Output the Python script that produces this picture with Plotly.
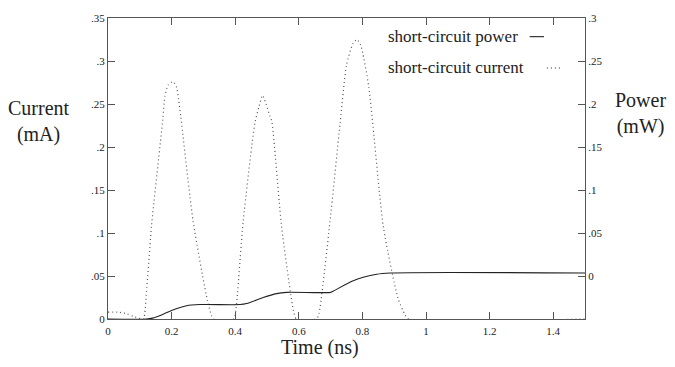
import plotly.graph_objects as go

# Time axis (ns) and short-circuit current (mA)
current_t = [0.0, 0.03, 0.06, 0.08, 0.105, 0.112, 0.122, 0.130, 0.137, 0.172, 0.179, 0.189, 0.205,
             0.216, 0.222, 0.229, 0.268, 0.315, 0.332,
             0.395, 0.402, 0.425, 0.462, 0.475, 0.486, 0.497, 0.509, 0.515, 0.546, 0.583, 0.592,
             0.655, 0.662, 0.698, 0.730, 0.750, 0.770, 0.783, 0.795, 0.820, 0.866, 0.912, 0.934, 0.945,
             1.5]
current_mA = [0.008, 0.008, 0.006, 0.003, 0.0, 0.0, 0.037, 0.075, 0.109, 0.231, 0.259, 0.272, 0.276,
              0.269, 0.255, 0.235, 0.113, 0.018, 0.0,
              0.0, 0.010, 0.113, 0.228, 0.247, 0.260, 0.250, 0.236, 0.230, 0.107, 0.010, 0.0,
              0.0, 0.004, 0.113, 0.228, 0.295, 0.320, 0.325, 0.318, 0.270, 0.107, 0.024, 0.005, 0.0,
              0.0]

# Short-circuit power trace (drawn in the current-axis units, as in the reference)
power_t = [0.0, 0.12, 0.14, 0.17, 0.2, 0.247, 0.29, 0.415, 0.436, 0.488, 0.53, 0.562, 0.70,
           0.709, 0.771, 0.845, 0.887, 1.5]
power_v = [0.0, 0.0, 0.001, 0.005, 0.010, 0.0155, 0.0168, 0.0168, 0.018, 0.025, 0.0295, 0.031, 0.031,
           0.0325, 0.0445, 0.052, 0.0535, 0.0535]

x_ticks = [0, 0.2, 0.4, 0.6, 0.8, 1.0, 1.2, 1.4]
x_ticktext = ["0", "0.2", "0.4", "0.6", "0.8", "1", "1.2", "1.4"]
y1_ticks = [0, 0.05, 0.1, 0.15, 0.2, 0.25, 0.3, 0.35]
y1_ticktext = ["0", ".05", ".1", ".15", ".2", ".25", ".3", ".35"]
y2_ticks = [0, 0.05, 0.1, 0.15, 0.2, 0.25, 0.3]
y2_ticktext = ["0", ".05", ".1", ".15", ".2", ".25", ".3"]

legend_labels = ["short-circuit power", "short-circuit current"]

FONT = "Liberation Serif"
INK = "#222222"

fig = go.Figure()
fig.add_trace(go.Scatter(x=current_t, y=current_mA, mode="lines",
                         line=dict(color="#555555", width=1.2, dash="1px,3px", shape="spline", smoothing=0.6),
                         name=legend_labels[1], showlegend=False))
fig.add_trace(go.Scatter(x=power_t, y=power_v, mode="lines",
                         line=dict(color=INK, width=1.1, shape="spline", smoothing=0.8),
                         name=legend_labels[0], showlegend=False))
# invisible trace to activate the right (power) axis
fig.add_trace(go.Scatter(x=[None], y=[None], yaxis="y2", showlegend=False, hoverinfo="skip"))

axis_common = dict(showgrid=False, zeroline=False, showline=True, linecolor="#555555", linewidth=1.2,
                   ticks="inside", ticklen=7, tickcolor="#555555", ticklabeloverflow="allow",
                   tickfont=dict(family=FONT, size=11, color=INK))

fig.update_layout(
    width=667, height=351,
    margin=dict(l=100, r=90, t=4, b=40),
    paper_bgcolor="white", plot_bgcolor="white",
    font=dict(family=FONT, color=INK),
    xaxis=dict(range=[0, 1.5], tickvals=x_ticks, ticktext=x_ticktext, mirror="ticks",
               ticklabelstandoff=2, **axis_common),
    yaxis=dict(range=[0, 0.35], tickvals=y1_ticks, ticktext=y1_ticktext, **axis_common),
    yaxis2=dict(range=[-0.05, 0.3], tickvals=y2_ticks, ticktext=y2_ticktext, overlaying="y",
                side="right", **axis_common),
)

# axis titles
fig.add_annotation(text="Time (ns)", xref="paper", yref="paper", x=0.444, y=-0.096,
                   xanchor="center", yanchor="middle", showarrow=False,
                   font=dict(family=FONT, size=20, color=INK))
fig.add_annotation(text="Current<br>(mA)", xref="paper", yref="paper", x=-0.145, y=0.655,
                   xanchor="center", yanchor="middle", showarrow=False,
                   font=dict(family=FONT, size=20, color=INK), align="center")
fig.add_annotation(text="Power<br>(mW)", xref="paper", yref="paper", x=1.116, y=0.684,
                   xanchor="center", yanchor="middle", showarrow=False,
                   font=dict(family=FONT, size=20, color=INK), align="center")

# legend (text on left, sample on right as in the reference)
leg_y = [0.938, 0.834]
leg_x0 = [0.884, 0.920]
leg_x1 = [0.914, 0.948]
for label, yy, a, b, dash in zip(legend_labels, leg_y, leg_x0, leg_x1, ["solid", "1px,3px"]):
    fig.add_annotation(text=label, xref="paper", yref="paper", x=0.582, y=yy, xanchor="left",
                       yanchor="middle", showarrow=False, font=dict(family=FONT, size=17, color=INK))
    fig.add_shape(type="line", xref="paper", yref="paper", x0=a, x1=b, y0=yy, y1=yy,
                  line=dict(color=INK, width=1.1, dash=dash))

fig.write_html("out.html")
